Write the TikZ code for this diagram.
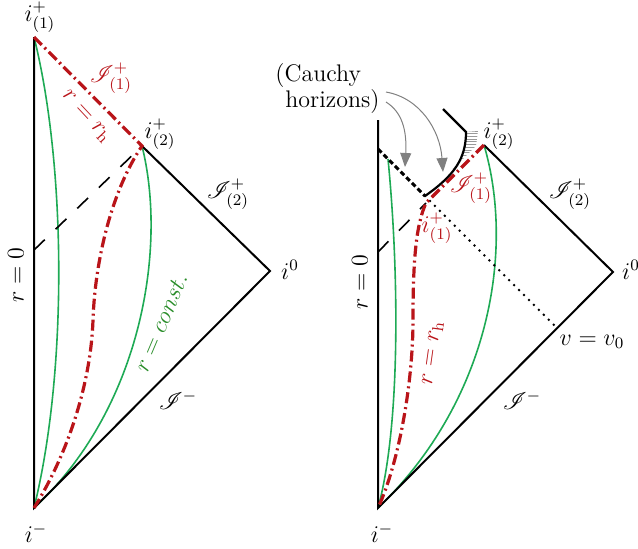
\documentclass[tikz,border=0pt,12pt]{standalone}
\usepackage{mathrsfs}
\usetikzlibrary{arrows.meta}
\definecolor{hred}{RGB}{185,20,25}
\definecolor{cgreen}{RGB}{30,170,85}
\definecolor{tgreen}{RGB}{40,140,40}
\begin{document}
\begin{tikzpicture}[x=0.5pt,y=-0.5pt,
  bl/.style={line width=1pt},
  gr/.style={cgreen, line width=0.8pt},
  rd/.style={hred, line width=1.6pt, dash pattern=on 5.5pt off 2pt on 1pt off 2pt},
  longdash/.style={line width=0.8pt, dash pattern=on 7.5pt off 7.5pt},
  thickdash/.style={line width=1.5pt, dash pattern=on 2.5pt off 1.5pt},
  dotline/.style={line width=1.4pt, line cap=round, dash pattern=on 0pt off 3.5pt},
  lbl/.style={inner sep=0pt},
  arr/.style={gray, line width=0.5pt, -{Triangle[length=7pt,width=5.5pt]}},
  hatch/.style={gray!80, line width=0.4pt}]
\useasboundingbox (0,0) rectangle (638,548);

% ---------------- left diagram ----------------
\coordinate (Lm) at (34,508);
\coordinate (Lp1) at (34,37);
\coordinate (Lp2) at (142,146);
\coordinate (L0) at (270,271);
\coordinate (Ld) at (34,250);
\coordinate (Lj) at (93,320);

\draw[gr] (Lp1) .. controls (66,165) and (68,370) .. (Lm);
\draw[gr] (Lp2) .. controls (168,250) and (140,410) .. (Lm);
\draw[longdash] (Ld) -- (Lp2);
\draw[bl] (Lp1) -- (Lm) -- (L0) -- (Lp2);
\draw[rd] (Lp1) -- (Lp2) .. controls (112,190) and (95,260) .. (Lj)
          .. controls (91,380) and (70,450) .. (Lm);

\node[lbl] (lp1) at (40,17) {$i^+_{(1)}$};
\node[lbl, hred] (lscri1) at (111,78) {$\mathscr{I}^+_{(1)}$};
\node[lbl, hred, rotate=-47] (lrh) at (86,117) {$r=r_{\rm h}$};
\node[lbl] (lp2) at (160,134) {$i^+_{(2)}$};
\node[lbl] (lscri2) at (228,194) {$\mathscr{I}^+_{(2)}$};
\node[lbl] (li0) at (290,270) {$i^0$};
\node[lbl, rotate=90] (lr0) at (16,275) {$r=0$};
\node[lbl, tgreen, rotate=67] (lconst) at (161,323) {$r=const.$};
\node[lbl] (lscrim) at (178,400) {$\mathscr{I}^-$};
\node[lbl] (lim) at (36,533) {$i^-$};

% ---------------- right diagram ----------------
\coordinate (Rm) at (378,508);
\coordinate (Rt) at (378,120);
\coordinate (R0) at (613,272);
\coordinate (Rp2) at (484,145);
\coordinate (Ra) at (378,149);
\coordinate (Rc) at (425,196);
\coordinate (Rr) at (426,203);
\coordinate (Vb) at (554,325);
\coordinate (Rk) at (466,132);
\coordinate (Rtop) at (443,109);
\coordinate (Rd) at (378,252);
\coordinate (Rg) at (388,159);
\coordinate (Rj) at (413,320);

\begin{scope}
\clip (Rk) .. controls (466,158) and (455,175) .. (Rc) -- (476,146) -- (478,131) -- cycle;
\foreach \yy in {131,133.7,...,170} \draw[hatch] (430,\yy) -- (490,\yy);
\end{scope}

\draw[gr] (Rg) .. controls (398,260) and (402,420) .. (Rm);
\draw[gr] (Rp2) .. controls (515,250) and (490,400) .. (Rm);
\draw[longdash] (Rd) -- (Rr);
\draw[thickdash] (Ra) -- (Rc);
\draw[dotline] (Rc) -- (Vb);
\draw[bl] (Rt) -- (Rm) -- (R0) -- (Rp2);
\draw[line width=1.1pt] (Rtop) -- (Rk) .. controls (466,158) and (455,175) .. (Rc);
\draw[rd] (Rp2) -- (Rr) .. controls (416,225) and (413,260) .. (Rj)
          .. controls (413,380) and (400,460) .. (Rm);

\node[lbl, align=left, anchor=north west, font=\fontsize{12}{10}\selectfont] (cauchy) at (275,63) {(Cauchy\\\hspace*{5pt}horizons)};
\coordinate (a1s) at (386,102);
\coordinate (a1e) at (405,167);
\coordinate (a2s) at (386,92);
\coordinate (a2e) at (443,172);
\draw[arr] (a1s) .. controls (402,112) and (407,130) .. (a1e);
\draw[arr] (a2s) .. controls (420,98) and (440,130) .. (a2e);

\node[lbl] (rp2) at (499,134) {$i^+_{(2)}$};
\node[lbl, hred] (rscri1) at (471,188) {$\mathscr{I}^+_{(1)}$};
\node[lbl, hred] (rp1) at (437,228) {$i^+_{(1)}$};
\node[lbl] (rscri2) at (570,194) {$\mathscr{I}^+_{(2)}$};
\node[lbl] (ri0) at (631,270) {$i^0$};
\node[lbl, rotate=90] (rr0) at (360,282) {$r=0$};
\node[lbl, hred, rotate=82] (rrh) at (433,353) {$r=r_{\rm h}$};
\node[lbl] (rv0) at (592,342) {$v=v_0$};
\node[lbl] (rscrim) at (522,400) {$\mathscr{I}^-$};
\node[lbl] (rim) at (382,533) {$i^-$};
\end{tikzpicture}
\end{document}
